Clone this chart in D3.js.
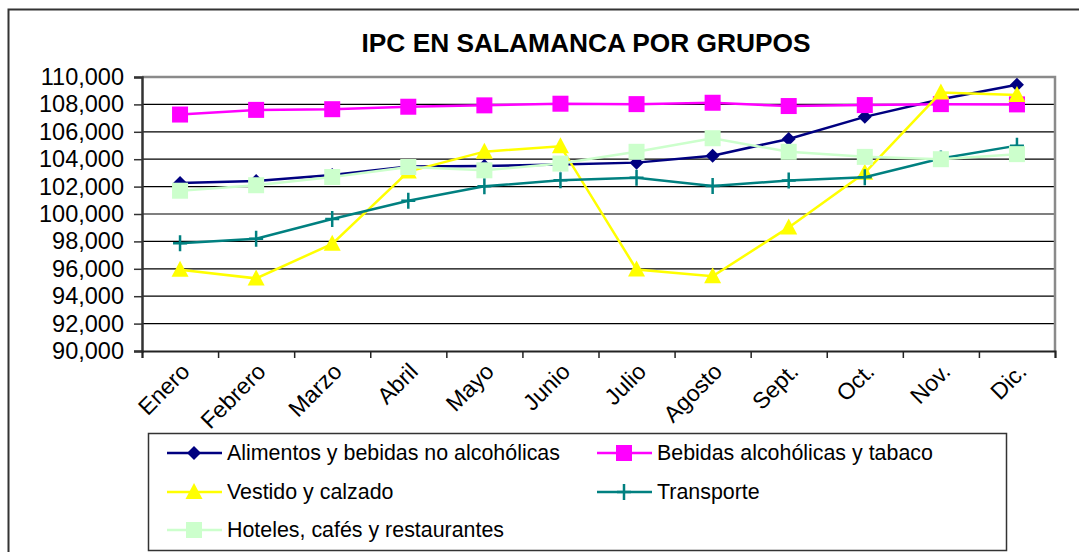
<!DOCTYPE html>
<html>
<head>
<meta charset="utf-8">
<script src="https://cdn.jsdelivr.net/npm/d3@7"></script>
<style>
  body { margin: 0; background: #fff; }
  svg { display: block; font-family: "Liberation Sans", Arial, sans-serif; }
</style>
</head>
<body>
<div id="root"></div>
<script>
// Data
const months = ['Enero', 'Febrero', 'Marzo', 'Abril', 'Mayo', 'Junio', 'Julio', 'Agosto', 'Sept.', 'Oct.', 'Nov.', 'Dic.'];
const alimentos = [102.27, 102.40, 102.84, 103.46, 103.51, 103.61, 103.75, 104.25, 105.48, 107.09, 108.37, 109.43];
const bebidas = [107.26, 107.60, 107.65, 107.83, 107.93, 108.05, 108.02, 108.12, 107.88, 107.95, 108.02, 108.00];
const vestido = [95.93, 95.30, 97.82, 103.10, 104.55, 104.95, 95.95, 95.46, 99.02, 103.01, 108.86, 108.69];
const transporte = [97.87, 98.20, 99.63, 100.97, 102.02, 102.47, 102.64, 102.05, 102.44, 102.69, 104.05, 104.99];
const hoteles = [101.70, 102.10, 102.70, 103.43, 103.19, 103.68, 104.54, 105.53, 104.54, 104.17, 104.00, 104.37];
const seriesNames = ['Alimentos y bebidas no alcohólicas', 'Bebidas alcohólicas y tabaco', 'Vestido y calzado', 'Transporte', 'Hoteles, cafés y restaurantes'];
const yTicks = [90, 92, 94, 96, 98, 100, 102, 104, 106, 108, 110];
const yTickLabels = ['90,000', '92,000', '94,000', '96,000', '98,000', '100,000', '102,000', '104,000', '106,000', '108,000', '110,000'];
const title = 'IPC EN SALAMANCA POR GRUPOS';

const series = [
  { name: seriesNames[0], values: alimentos, color: '#000080', symbol: 'diamond' },
  { name: seriesNames[1], values: bebidas, color: '#ff00ff', symbol: 'square' },
  { name: seriesNames[2], values: vestido, color: '#ffff00', symbol: 'triangle' },
  { name: seriesNames[3], values: transporte, color: '#008080', symbol: 'plus' },
  { name: seriesNames[4], values: hoteles, color: '#ccffcc', symbol: 'square' }
];

const w = 1079, h = 552;
const plot = { left: 142, right: 1055, top: 77, bottom: 351 };

const svg = d3.select('#root').append('svg')
  .attr('width', w)
  .attr('height', h);

// outer frame (runs off the right / bottom edge)
svg.append('rect')
  .attr('x', 8.5).attr('y', 9.5)
  .attr('width', 1200).attr('height', 700)
  .attr('fill', 'none')
  .attr('stroke', '#333')
  .attr('stroke-width', 2);

svg.append('text')
  .attr('x', 586).attr('y', 52)
  .attr('text-anchor', 'middle')
  .style('font-size', '26.3px')
  .style('font-weight', 'bold')
  .text(title);

const x = d3.scaleBand().domain(months).range([plot.left, plot.right]);
const y = d3.scaleLinear().domain([90, 110]).range([plot.bottom, plot.top]);

// gridlines
svg.append('g')
  .selectAll('line')
  .data(yTicks.slice(1, -1))
  .enter()
  .append('line')
  .attr('x1', plot.left).attr('x2', plot.right)
  .attr('y1', d => y(d)).attr('y2', d => y(d))
  .attr('stroke', '#000')
  .attr('stroke-width', 1.2);

// plot border top / right
svg.append('path')
  .attr('d', `M${plot.left},${plot.top}H${plot.right}V${plot.bottom}`)
  .attr('fill', 'none')
  .attr('stroke', '#8a8a8a')
  .attr('stroke-width', 2.5);

// y axis
const yAxis = d3.axisLeft(y)
  .tickValues(yTicks)
  .tickSize(8)
  .tickPadding(10)
  .tickFormat((d, i) => yTickLabels[i]);
const gy = svg.append('g')
  .attr('transform', `translate(${plot.left},0)`)
  .call(yAxis);
gy.select('.domain').attr('stroke', '#333').attr('stroke-width', 2.5);
gy.selectAll('.tick line').attr('stroke', '#333').attr('stroke-width', 1.5);
gy.selectAll('text')
  .attr('fill', '#000')
  .style('font-family', '"Liberation Sans", Arial, sans-serif')
  .style('font-size', '23.5px');

// x axis: ticks on band edges
const xEdges = d3.scaleLinear().domain([0, months.length]).range([plot.left, plot.right]);
const gx = svg.append('g')
  .attr('transform', `translate(0,${plot.bottom})`)
  .call(d3.axisBottom(xEdges).ticks(12).tickSize(7).tickFormat(''));
gx.select('.domain').attr('stroke', '#222').attr('stroke-width', 2);
gx.selectAll('.tick line').attr('stroke', '#222').attr('stroke-width', 1.5);

svg.append('g')
  .selectAll('text')
  .data(months)
  .enter()
  .append('text')
  .attr('transform', d => `translate(${x(d) + x.bandwidth() / 2 + 11},${plot.bottom + 22}) rotate(-45)`)
  .attr('text-anchor', 'end')
  .style('font-size', '23px')
  .text(d => d);

// markers
function drawMarker(g, symbol, color, cx, cy) {
  if (symbol === 'diamond') {
    g.append('path')
      .attr('d', `M${cx},${cy - 7}L${cx + 7},${cy}L${cx},${cy + 7}L${cx - 7},${cy}Z`)
      .attr('fill', color);
  } else if (symbol === 'square') {
    g.append('rect')
      .attr('x', cx - 8).attr('y', cy - 8)
      .attr('width', 16).attr('height', 16)
      .attr('fill', color);
  } else if (symbol === 'triangle') {
    g.append('path')
      .attr('d', `M${cx},${cy - 9}L${cx + 8.5},${cy + 7}L${cx - 8.5},${cy + 7}Z`)
      .attr('fill', color);
  } else if (symbol === 'plus') {
    g.append('path')
      .attr('d', `M${cx - 7},${cy}H${cx + 7}M${cx},${cy - 8}V${cy + 8}`)
      .attr('stroke', color)
      .attr('stroke-width', 2.5);
  }
}

const line = d3.line()
  .x((d, i) => x(months[i]) + x.bandwidth() / 2)
  .y(d => y(d));

series.forEach(s => {
  const g = svg.append('g');
  g.append('path')
    .datum(s.values)
    .attr('d', line)
    .attr('fill', 'none')
    .attr('stroke', s.color)
    .attr('stroke-width', 2.5);
  s.values.forEach((v, i) => {
    drawMarker(g, s.symbol, s.color, x(months[i]) + x.bandwidth() / 2, y(v));
  });
});

// legend
const legend = svg.append('g');
legend.append('rect')
  .attr('x', 148.5).attr('y', 433.5)
  .attr('width', 858).attr('height', 117)
  .attr('fill', '#fff')
  .attr('stroke', '#333')
  .attr('stroke-width', 1.5);

const colX = [167, 597];
const rowY = [453, 492, 530];
series.forEach((s, i) => {
  const lx = colX[i % 2];
  const ly = rowY[Math.floor(i / 2)];
  const g = legend.append('g');
  g.append('line')
    .attr('x1', lx).attr('x2', lx + 55)
    .attr('y1', ly).attr('y2', ly)
    .attr('stroke', s.color)
    .attr('stroke-width', 2.5);
  drawMarker(g, s.symbol, s.color, lx + 27, ly);
  g.append('text')
    .attr('x', lx + 60).attr('y', ly + 7)
    .style('font-size', '21.4px')
    .text(s.name);
});
</script>
</body>
</html>
